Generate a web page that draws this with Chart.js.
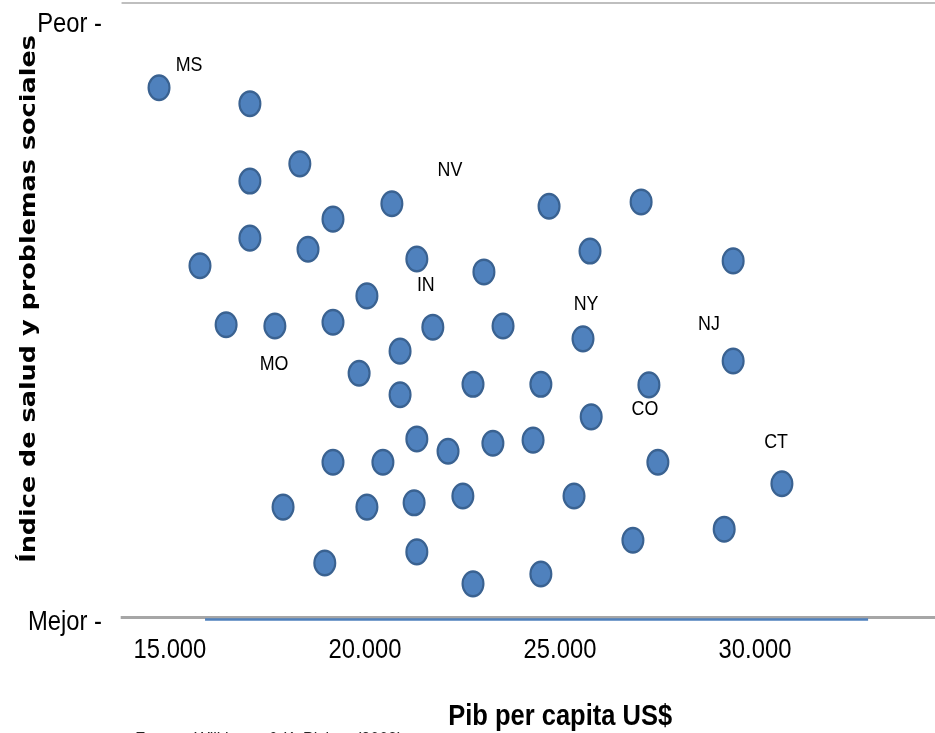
<!DOCTYPE html>
<html>
<head>
<meta charset="utf-8">
<script src="https://cdn.jsdelivr.net/npm/chart.js@4"></script>
<style>
  html, body { margin: 0; padding: 0; background: #fff; overflow: hidden; }
  #wrap { width: 935px; height: 733px; overflow: hidden; }
</style>
</head>
<body>
<div id="wrap"><canvas id="pibChart" width="1100" height="733"></canvas></div>
<script>
// Datos (PIB per cápita vs índice de salud)
const pibPerCapita = [
  14720, 17050, 18330, 17050, 20690, 19180, 24720, 27080, 17050, 18540,
  15770, 21330, 23050, 25770, 29440, 20050, 16440, 17690, 19180, 21740,
  23540, 25590, 20900, 29440, 19850, 20900, 22770, 24510, 27280, 25800,
  21330, 22130, 23280, 24310, 19180, 20460, 27510, 30690, 17900, 20050,
  21260, 22510, 25360, 29210, 26870, 18970, 21330, 24510, 22770
];
const indiceSalud = [
  86.2, 83.6, 73.8, 71.0, 67.3, 64.8, 66.9, 67.6, 61.7, 59.9,
  57.2, 58.3, 56.2, 59.6, 58.0, 52.3, 47.6, 47.4, 48.0, 47.2,
  47.4, 45.3, 43.3, 41.7, 39.7, 36.2, 37.9, 37.9, 37.8, 32.6,
  29.0, 27.0, 28.3, 28.8, 25.2, 25.2, 25.2, 21.7, 17.9, 17.9,
  18.6, 19.7, 19.7, 14.3, 12.5, 8.8, 10.6, 7.0, 5.4
];

// Etiquetas de estados (posición en unidades de los ejes)
const estados = ['MS', 'NV', 'IN', 'NY', 'NJ', 'MO', 'CO', 'CT'];
const estadosX = [15490, 22180, 21560, 25670, 28820, 17670, 27180, 30540];
const estadosY = [89.9, 72.8, 54.1, 51.0, 47.7, 41.2, 33.9, 28.5];

const xTicks = [15000, 20000, 25000, 30000];
const xTickLabels = ['15.000', '20.000', '25.000', '30.000'];
const yTicks = [96.6, -0.8];
const yTickLabels = ['Peor -', 'Mejor -'];

// línea azul bajo el eje
const lineaBaseX = [15900, 32900];
const lineaBaseY = [-0.4, -0.4];

const tituloX = 'Pib per capita US$';
const tituloY = 'Índice de salud y problemas sociales';
const fuente = 'Fuente: Wilkinson & K. Pickett (2009)';

// el original está algo comprimido en horizontal
const SQUISH = 0.85;
const sans = '"Liberation Sans", Arial, sans-serif';

const aplastarPlugin = {
  id: 'aplastar',
  beforeDraw(chart) {
    chart.ctx.save();
    chart.ctx.scale(SQUISH, 1);
  },
  afterDraw(chart) {
    chart.ctx.restore();
  }
};

const textosPlugin = {
  id: 'textos',
  afterDatasetsDraw(chart) {
    const { ctx, scales } = chart;
    ctx.save();
    // etiquetas de estados
    ctx.fillStyle = '#000';
    ctx.font = '21px ' + sans;
    ctx.textAlign = 'center';
    ctx.textBaseline = 'middle';
    estados.forEach((s, i) => {
      ctx.fillText(s, scales.x.getPixelForValue(estadosX[i]), scales.y.getPixelForValue(estadosY[i]));
    });

    // título eje X
    ctx.font = 'bold 30px ' + sans;
    ctx.textBaseline = 'alphabetic';
    ctx.fillText(tituloX, 659, 725);

    // título eje Y (ajustado a la longitud del original)
    ctx.font = 'bold 24px "DejaVu Sans", sans-serif';
    const w = ctx.measureText(tituloY).width;
    const size = 24 * 528 / w;
    ctx.font = 'bold ' + size.toFixed(1) + 'px "DejaVu Sans", sans-serif';
    ctx.translate(41, 299);
    ctx.rotate(-Math.PI / 2);
    ctx.fillText(tituloY, 0, 0);
    ctx.restore();

    // fuente (cortada por el borde inferior)
    ctx.save();
    ctx.fillStyle = '#222';
    ctx.font = '19px ' + sans;
    ctx.textAlign = 'left';
    ctx.textBaseline = 'alphabetic';
    ctx.fillText(fuente, 159, 745);
    ctx.restore();
  }
};

const sinPadding = (scale) => {
  scale.paddingTop = 0;
  scale.paddingBottom = 0;
  scale.paddingLeft = 0;
  scale.paddingRight = 0;
};

const ctx = document.getElementById('pibChart').getContext('2d');
new Chart(ctx, {
  type: 'scatter',
  data: {
    datasets: [
      {
        label: 'Estados',
        data: pibPerCapita.map((v, i) => ({ x: v, y: indiceSalud[i] })),
        backgroundColor: '#4F81BD',
        borderColor: '#3A6291',
        borderWidth: 2.5,
        pointRadius: 12.3,
        clip: false
      },
      {
        label: 'base',
        data: lineaBaseX.map((v, i) => ({ x: v, y: lineaBaseY[i] })),
        showLine: true,
        borderColor: '#4F81BD',
        borderWidth: 2.5,
        pointRadius: 0,
        clip: false
      }
    ]
  },
  options: {
    responsive: false,
    animation: false,
    events: [],
    layout: { autoPadding: false, padding: { top: 3, right: 0, bottom: 0, left: 0 } },
    plugins: {
      legend: { display: false },
      tooltip: { enabled: false }
    },
    scales: {
      x: {
        type: 'linear',
        min: 13770,
        max: 34615,
        afterBuildTicks: (scale) => { scale.ticks = xTicks.map(v => ({ value: v })); },
        afterFit: (scale) => { scale.height = 116; sinPadding(scale); },
        grid: { display: false, drawTicks: false },
        border: { display: true, color: '#A6A6A6', width: 3 },
        ticks: {
          autoSkip: false,
          maxRotation: 0,
          padding: 16,
          color: '#000',
          font: { family: sans, size: 28 },
          callback: (v) => xTickLabels[xTicks.indexOf(v)]
        }
      },
      xTop: {
        type: 'linear',
        position: 'top',
        min: 13770,
        max: 34615,
        afterFit: (scale) => { scale.height = 0; sinPadding(scale); },
        grid: { display: false, drawTicks: false },
        border: { display: true, color: '#BFBFBF', width: 2 },
        ticks: { display: false }
      },
      y: {
        type: 'linear',
        min: 0,
        max: 100,
        afterBuildTicks: (scale) => { scale.ticks = yTicks.map(v => ({ value: v })); },
        afterFit: (scale) => { scale.width = 143.5; sinPadding(scale); },
        grid: { display: false, drawTicks: false },
        border: { display: false },
        ticks: {
          autoSkip: false,
          padding: 23.5,
          color: '#000',
          font: { family: sans, size: 28 },
          callback: (v) => yTickLabels[yTicks.indexOf(v)]
        }
      }
    }
  },
  plugins: [aplastarPlugin, textosPlugin]
});
</script>
</body>
</html>
